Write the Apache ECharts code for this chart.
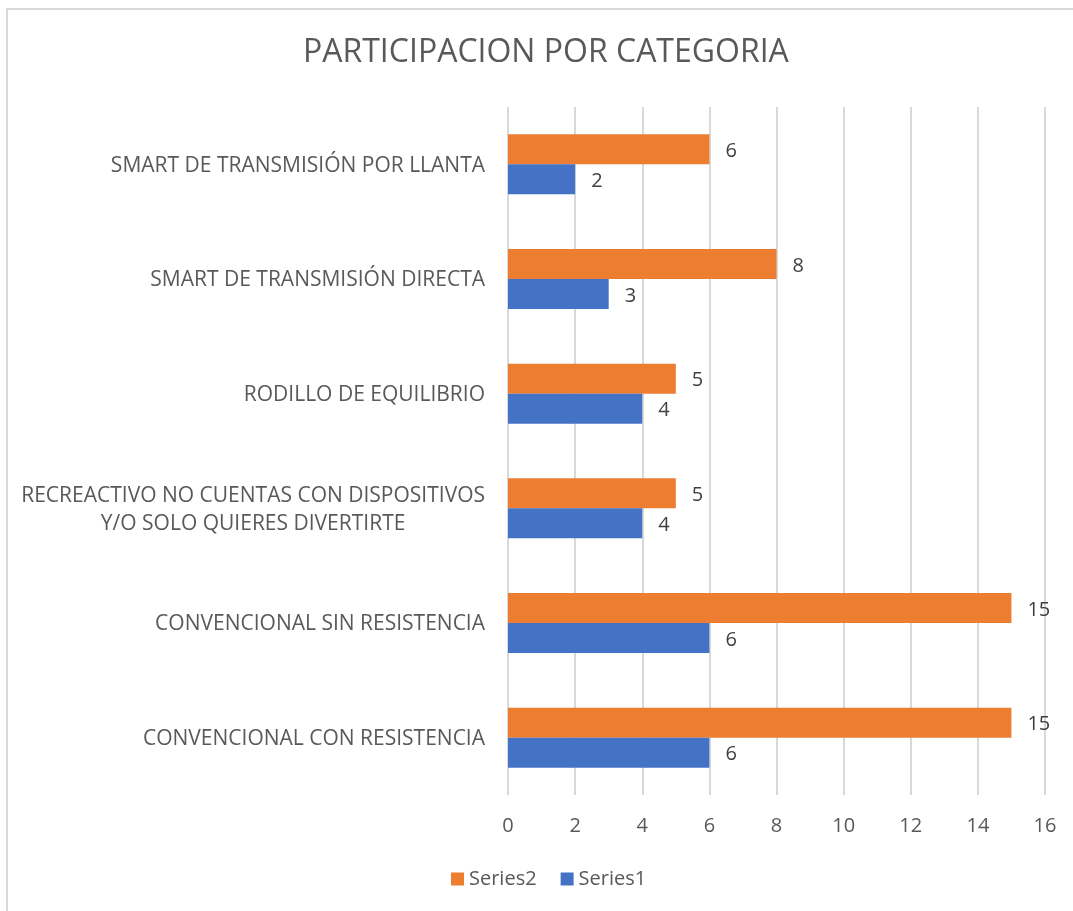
<!DOCTYPE html>
<html>
<head>
<meta charset="utf-8">
<title>PARTICIPACION POR CATEGORIA</title>
<script src="https://cdn.jsdelivr.net/npm/echarts@6/dist/echarts.min.js"></script>
<style>
  html, body { margin: 0; padding: 0; background: #fff; }
  #chart_bar { width: 1073px; height: 911px; }
</style>
</head>
<body>
<div id="chart_bar"></div>
<script>
// categories from bottom to top, as the axis draws them
var categories = [
  'CONVENCIONAL CON RESISTENCIA',
  'CONVENCIONAL SIN RESISTENCIA',
  'RECREACTIVO NO CUENTAS CON DISPOSITIVOS\nY/O SOLO QUIERES DIVERTIRTE',
  'RODILLO DE EQUILIBRIO',
  'SMART DE TRANSMISIÓN DIRECTA',
  'SMART DE TRANSMISIÓN POR LLANTA'
];
var series1 = [6, 6, 4, 4, 3, 2];
var series2 = [15, 15, 5, 5, 8, 6];
var xTicks = [0, 2, 4, 6, 8, 10, 12, 14, 16];

var FONT = '"Open Sans", "Noto Sans", sans-serif';

var chartDom = document.getElementById('chart_bar');
var myChart = echarts.init(chartDom);

var valueLabel = {
  show: true,
  position: 'right',
  distance: 16,
  color: '#404040',
  fontSize: 20,
  fontFamily: FONT,
  offset: [0, 2]
};

myChart.setOption({
  animation: false,
  backgroundColor: '#fff',
  graphic: [{
    type: 'rect',
    shape: { x: 7, y: 9, width: 1200, height: 1000 },
    style: { fill: 'none', stroke: '#d9d9d9', lineWidth: 2 },
    silent: true
  }],
  title: {
    text: 'PARTICIPACION POR CATEGORIA',
    left: 303,
    top: 37,
    padding: 0,
    textStyle: {
      color: '#595959',
      fontSize: 32,
      fontWeight: 'normal',
      fontFamily: FONT
    }
  },
  legend: {
    data: ['Series2', 'Series1'],
    top: 869,
    left: 451,
    padding: 0,
    itemWidth: 13,
    itemHeight: 13,
    itemGap: 24,
    icon: 'rect',
    textStyle: { color: '#595959', fontSize: 20, fontFamily: FONT }
  },
  grid: {
    left: 508,
    right: 28,
    top: 107,
    bottom: 116,
    containLabel: false
  },
  xAxis: {
    type: 'value',
    min: xTicks[0],
    max: xTicks[xTicks.length - 1],
    interval: 2,
    axisLine: { show: false },
    axisTick: { show: false },
    splitLine: { show: true, lineStyle: { color: '#d9d9d9', width: 2 } },
    axisLabel: {
      color: '#595959',
      fontSize: 20,
      margin: 21,
      fontFamily: FONT
    }
  },
  yAxis: {
    type: 'category',
    data: categories,
    axisLine: { show: false },
    axisTick: { show: false },
    axisLabel: {
      color: '#595959',
      fontSize: 21,
      margin: 23,
      fontFamily: FONT,
      formatter: function (v) {
        return v.split('\n').map(function (s) { return '{c|' + s + '}'; }).join('\n');
      },
      rich: {
        c: { align: 'center', color: '#595959', fontSize: 21, fontFamily: FONT, lineHeight: 28, padding: [3, 0, 0, 0] }
      }
    }
  },
  series: [
    {
      name: 'Series2',
      type: 'bar',
      data: series2,
      barWidth: 30,
      barGap: '0%',
      itemStyle: { color: '#ED7D31' },
      label: valueLabel
    },
    {
      name: 'Series1',
      type: 'bar',
      data: series1,
      barWidth: 30,
      barGap: '0%',
      itemStyle: { color: '#4472C4' },
      label: valueLabel
    }
  ]
});

window.addEventListener('resize', function () {
  myChart.resize();
});
</script>
</body>
</html>
